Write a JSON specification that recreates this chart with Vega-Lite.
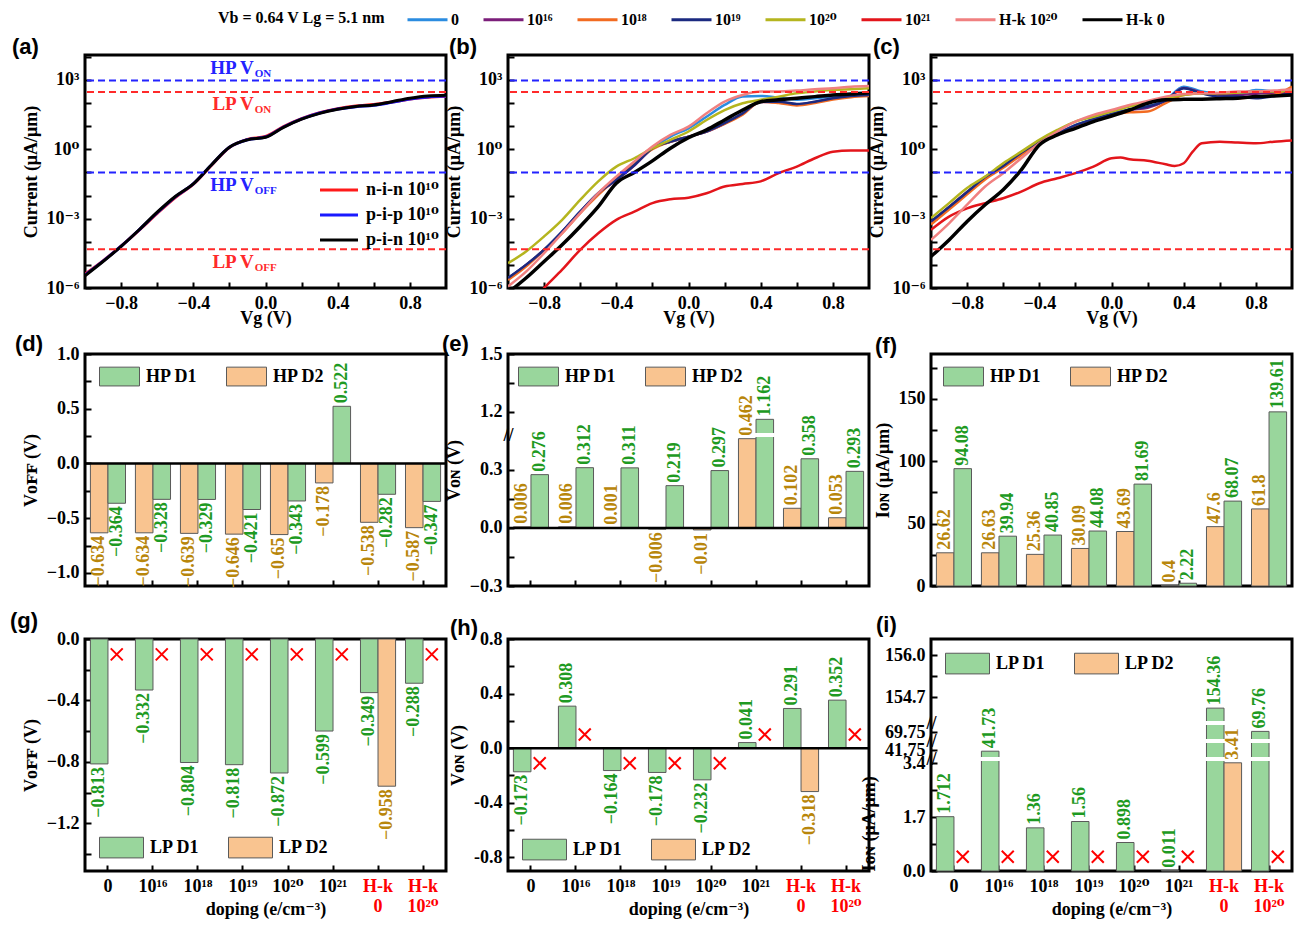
{
"$schema": "https://vega.github.io/schema/vega-lite/v6.json",
"background": "white",
"padding": {"left": 8, "top": 8, "right": 5, "bottom": 5},
"config": {
 "font": "Liberation Serif, DejaVu Serif",
 "view": {"stroke": "black", "strokeWidth": 3},
 "axis": {"domain": false, "grid": false, "tickCount": 50, "labelFont": "Liberation Serif, DejaVu Serif", "labelFontSize": 18, "labelFontWeight": "bold", "labelColor": "black", "titleFont": "Liberation Serif, DejaVu Serif", "titleFontSize": 18, "titleFontWeight": "bold", "titleColor": "black", "tickColor": "black", "tickWidth": 2, "tickSize": -6, "labelPadding": 12, "labelOverlap": false, "titlePadding": 6},
 "legend": {"labelFont": "Liberation Serif, DejaVu Serif", "labelFontSize": 17, "labelFontWeight": "bold", "labelColor": "black", "titleFont": "Liberation Serif, DejaVu Serif", "titleFontSize": 17, "titleFontWeight": "bold", "titleColor": "black", "padding": 0},
 "title": {"font": "Liberation Sans", "fontSize": 22, "fontWeight": "bold", "anchor": "start", "frame": "group", "color": "black"},
 "text": {"font": "Liberation Serif, DejaVu Serif", "fontWeight": "bold"}
},
"datasets": {
 "a": [
  {"Vg": -1.0, "n-i-n 10¹⁰": 4e-6, "p-i-p 10¹⁰": 3.6e-6, "p-i-n 10¹⁰": 3.4e-6},
  {"Vg": -0.9, "n-i-n 10¹⁰": 1.5e-5, "p-i-p 10¹⁰": 1.45e-5, "p-i-n 10¹⁰": 1.4e-5},
  {"Vg": -0.8, "n-i-n 10¹⁰": 6.5e-5, "p-i-p 10¹⁰": 6.4e-5, "p-i-n 10¹⁰": 6.3e-5},
  {"Vg": -0.7, "n-i-n 10¹⁰": 3.2e-4, "p-i-p 10¹⁰": 3.3e-4, "p-i-n 10¹⁰": 3.3e-4},
  {"Vg": -0.6, "n-i-n 10¹⁰": 1.7e-3, "p-i-p 10¹⁰": 1.8e-3, "p-i-n 10¹⁰": 1.9e-3},
  {"Vg": -0.5, "n-i-n 10¹⁰": 8.2e-3, "p-i-p 10¹⁰": 8.8e-3, "p-i-n 10¹⁰": 9.1e-3},
  {"Vg": -0.4, "n-i-n 10¹⁰": 0.031, "p-i-p 10¹⁰": 0.032, "p-i-n 10¹⁰": 0.032},
  {"Vg": -0.3, "n-i-n 10¹⁰": 0.2, "p-i-p 10¹⁰": 0.21, "p-i-n 10¹⁰": 0.21},
  {"Vg": -0.2, "n-i-n 10¹⁰": 1.2, "p-i-p 10¹⁰": 1.22, "p-i-n 10¹⁰": 1.23},
  {"Vg": -0.1, "n-i-n 10¹⁰": 2.7, "p-i-p 10¹⁰": 2.6, "p-i-n 10¹⁰": 2.57},
  {"Vg": 0.0, "n-i-n 10¹⁰": 3.6, "p-i-p 10¹⁰": 3.4, "p-i-n 10¹⁰": 3.31},
  {"Vg": 0.1, "n-i-n 10¹⁰": 9.6, "p-i-p 10¹⁰": 9.2, "p-i-n 10¹⁰": 8.9},
  {"Vg": 0.2, "n-i-n 10¹⁰": 21, "p-i-p 10¹⁰": 20.5, "p-i-n 10¹⁰": 20},
  {"Vg": 0.3, "n-i-n 10¹⁰": 38, "p-i-p 10¹⁰": 37, "p-i-n 10¹⁰": 36},
  {"Vg": 0.4, "n-i-n 10¹⁰": 57, "p-i-p 10¹⁰": 55, "p-i-n 10¹⁰": 54},
  {"Vg": 0.5, "n-i-n 10¹⁰": 74, "p-i-p 10¹⁰": 70, "p-i-n 10¹⁰": 71},
  {"Vg": 0.6, "n-i-n 10¹⁰": 86, "p-i-p 10¹⁰": 80, "p-i-n 10¹⁰": 83},
  {"Vg": 0.7, "n-i-n 10¹⁰": 110, "p-i-p 10¹⁰": 108, "p-i-n 10¹⁰": 115},
  {"Vg": 0.8, "n-i-n 10¹⁰": 150, "p-i-p 10¹⁰": 150, "p-i-n 10¹⁰": 162},
  {"Vg": 0.9, "n-i-n 10¹⁰": 180, "p-i-p 10¹⁰": 185, "p-i-n 10¹⁰": 204},
  {"Vg": 1.0, "n-i-n 10¹⁰": 196, "p-i-p 10¹⁰": 200, "p-i-n 10¹⁰": 219}
 ],
 "b": [
  {"Vg": -1.0, "0": 2.7e-6, "10¹⁶": 2.6e-6, "10¹⁸": 2.24e-6, "10¹⁹": 2.7e-6, "10²⁰": 1.17e-5, "H-k 10²⁰": 1.17e-6, "H-k 0": 6.3e-7},
  {"Vg": -0.9, "0": 1e-5, "10¹⁶": 9.8e-6, "10¹⁸": 8.5e-6, "10¹⁹": 1e-5, "10²⁰": 3.8e-5, "10²¹": 1.26e-7, "H-k 10²⁰": 5.1e-6, "H-k 0": 2.7e-6},
  {"Vg": -0.8, "0": 4.5e-5, "10¹⁶": 4.4e-5, "10¹⁸": 4.5e-5, "10¹⁹": 4.5e-5, "10²⁰": 1.7e-4, "10²¹": 1e-6, "H-k 10²⁰": 3.2e-5, "H-k 0": 1.4e-5},
  {"Vg": -0.7, "0": 2.75e-4, "10¹⁶": 2.7e-4, "10¹⁸": 2.34e-4, "10¹⁹": 2.75e-4, "10²⁰": 8.9e-4, "10²¹": 6.2e-6, "H-k 10²⁰": 2.34e-4, "H-k 0": 7.4e-5},
  {"Vg": -0.6, "0": 2.0e-3, "10¹⁶": 1.95e-3, "10¹⁸": 1.74e-3, "10¹⁹": 2.0e-3, "10²⁰": 6.5e-3, "10²¹": 4.5e-5, "H-k 10²⁰": 1.74e-3, "H-k 0": 4.6e-4},
  {"Vg": -0.5, "0": 0.0126, "10¹⁶": 0.0123, "10¹⁸": 0.0107, "10¹⁹": 0.0126, "10²⁰": 0.041, "10²¹": 2.34e-4, "H-k 10²⁰": 0.0126, "H-k 0": 3.3e-3},
  {"Vg": -0.4, "0": 0.048, "10¹⁶": 0.047, "10¹⁸": 0.056, "10¹⁹": 0.048, "10²⁰": 0.178, "10²¹": 8.9e-4, "H-k 10²⁰": 0.066, "H-k 0": 0.034},
  {"Vg": -0.3, "0": 0.21, "10¹⁶": 0.2, "10¹⁸": 0.25, "10¹⁹": 0.21, "10²⁰": 0.41, "10²¹": 2.0e-3, "H-k 10²⁰": 0.295, "H-k 0": 0.1},
  {"Vg": -0.2, "0": 1.12, "10¹⁶": 1.1, "10¹⁸": 1.0, "10¹⁹": 1.12, "10²⁰": 1.12, "10²¹": 4.7e-3, "H-k 10²⁰": 1.32, "H-k 0": 0.316},
  {"Vg": -0.1, "0": 3.55, "10¹⁶": 2.1, "10¹⁸": 2.14, "10¹⁹": 2.14, "10²⁰": 2.57, "10²¹": 6.9e-3, "H-k 10²⁰": 4.17, "H-k 0": 1.12},
  {"Vg": 0.0, "0": 8.1, "10¹⁶": 3.5, "10¹⁸": 3.55, "10¹⁹": 3.55, "10²⁰": 5.9, "10²¹": 8.1e-3, "H-k 10²⁰": 9.5, "H-k 0": 3.16},
  {"Vg": 0.1, "0": 25.7, "10¹⁶": 5.8, "10¹⁸": 5.9, "10¹⁹": 5.9, "10²⁰": 18.6, "10²¹": 0.0126, "H-k 10²⁰": 36, "H-k 0": 6.9},
  {"Vg": 0.2, "0": 83, "10¹⁶": 13, "10¹⁸": 12.6, "10¹⁹": 13.5, "10²⁰": 50, "10²¹": 0.0245, "H-k 10²⁰": 115, "H-k 0": 18.6},
  {"Vg": 0.3, "0": 190, "10¹⁶": 35, "10¹⁸": 31.6, "10¹⁹": 36, "10²⁰": 98, "10²¹": 0.0316, "H-k 10²⁰": 224, "H-k 0": 50},
  {"Vg": 0.4, "0": 204, "10¹⁶": 112, "10¹⁸": 115, "10¹⁹": 115, "10²⁰": 138, "10²¹": 0.041, "H-k 10²⁰": 316, "H-k 0": 115},
  {"Vg": 0.5, "0": 170, "10¹⁶": 110, "10¹⁸": 100, "10¹⁹": 115, "10²⁰": 190, "10²¹": 0.093, "H-k 10²⁰": 316, "H-k 0": 138},
  {"Vg": 0.6, "0": 140, "10¹⁶": 88, "10¹⁸": 79, "10¹⁹": 91, "10²⁰": 263, "10²¹": 0.178, "H-k 10²⁰": 347, "H-k 0": 162},
  {"Vg": 0.7, "0": 160, "10¹⁶": 112, "10¹⁸": 100, "10¹⁹": 115, "10²⁰": 316, "10²¹": 0.41, "H-k 10²⁰": 398, "H-k 0": 190},
  {"Vg": 0.8, "0": 190, "10¹⁶": 158, "10¹⁸": 141, "10¹⁹": 162, "10²⁰": 372, "10²¹": 0.79, "H-k 10²⁰": 437, "H-k 0": 224},
  {"Vg": 0.9, "0": 210, "10¹⁶": 200, "10¹⁸": 178, "10¹⁹": 204, "10²⁰": 398, "10²¹": 0.89, "H-k 10²⁰": 513, "H-k 0": 245},
  {"Vg": 1.0, "0": 224, "10¹⁶": 220, "10¹⁸": 200, "10¹⁹": 224, "10²⁰": 437, "10²¹": 0.89, "H-k 10²⁰": 550, "H-k 0": 282}
 ],
 "c": [
  {"Vg": -1.0, "0": 6.3e-4, "10¹⁶": 7.1e-4, "10¹⁸": 5.6e-4, "10¹⁹": 7.6e-4, "10²⁰": 1.05e-3, "10²¹": 3.3e-4, "H-k 10²⁰": 1.2e-4, "H-k 0": 2.3e-5},
  {"Vg": -0.9, "0": 2.8e-3, "10¹⁶": 3.2e-3, "10¹⁸": 2.5e-3, "10¹⁹": 3.2e-3, "10²⁰": 4.7e-3, "10²¹": 1.23e-3, "H-k 10²⁰": 6.3e-4, "H-k 0": 1.2e-4},
  {"Vg": -0.8, "0": 0.0126, "10¹⁶": 0.0141, "10¹⁸": 0.0112, "10¹⁹": 0.0141, "10²⁰": 0.021, "10²¹": 2.8e-3, "H-k 10²⁰": 4e-3, "H-k 0": 7.6e-4},
  {"Vg": -0.7, "0": 0.056, "10¹⁶": 0.056, "10¹⁸": 0.05, "10¹⁹": 0.063, "10²⁰": 0.066, "10²¹": 4.7e-3, "H-k 10²⁰": 0.0245, "H-k 0": 4e-3},
  {"Vg": -0.6, "0": 0.178, "10¹⁶": 0.178, "10¹⁸": 0.158, "10¹⁹": 0.19, "10²⁰": 0.25, "10²¹": 7.6e-3, "H-k 10²⁰": 0.093, "H-k 0": 0.0178},
  {"Vg": -0.5, "0": 0.68, "10¹⁶": 0.63, "10¹⁸": 0.56, "10¹⁹": 0.71, "10²⁰": 0.79, "10²¹": 0.0148, "H-k 10²⁰": 0.41, "H-k 0": 0.129},
  {"Vg": -0.4, "0": 2.14, "10¹⁶": 2.0, "10¹⁸": 2.0, "10¹⁹": 2.14, "10²⁰": 2.57, "10²¹": 0.034, "H-k 10²⁰": 1.82, "H-k 0": 1.55},
  {"Vg": -0.3, "0": 4.9, "10¹⁶": 4.5, "10¹⁸": 4.5, "10¹⁹": 4.9, "10²⁰": 6.9, "10²¹": 0.056, "H-k 10²⁰": 5.9, "H-k 0": 4.17},
  {"Vg": -0.2, "0": 11.2, "10¹⁶": 10, "10¹⁸": 10, "10¹⁹": 11.2, "10²⁰": 15.8, "10²¹": 0.093, "H-k 10²⁰": 15.8, "H-k 0": 8.1},
  {"Vg": -0.1, "0": 20, "10¹⁶": 20, "10¹⁸": 19, "10¹⁹": 20, "10²⁰": 25.7, "10²¹": 0.178, "H-k 10²⁰": 31, "H-k 0": 15.8},
  {"Vg": 0.0, "0": 34, "10¹⁶": 31.6, "10¹⁸": 31.6, "10¹⁹": 34, "10²⁰": 43, "10²¹": 0.41, "H-k 10²⁰": 50, "H-k 0": 27.5},
  {"Vg": 0.05, "10²¹": 0.44},
  {"Vg": 0.1, "0": 54, "10¹⁶": 50, "10¹⁸": 40, "10¹⁹": 52, "10²⁰": 71, "10²¹": 0.37, "H-k 10²⁰": 83, "H-k 0": 50},
  {"Vg": 0.2, "0": 71, "10¹⁶": 63, "10¹⁸": 43, "10¹⁹": 71, "10²⁰": 105, "10²¹": 0.32, "H-k 10²⁰": 123, "H-k 0": 98},
  {"Vg": 0.3, "0": 138, "10¹⁶": 126, "10¹⁸": 100, "10¹⁹": 126, "10²⁰": 162, "10²¹": 0.224, "H-k 10²⁰": 190, "H-k 0": 138},
  {"Vg": 0.35, "10²¹": 0.19},
  {"Vg": 0.4, "0": 513, "10¹⁶": 447, "10¹⁸": 224, "10¹⁹": 437, "10²⁰": 224, "10²¹": 0.25, "H-k 10²⁰": 245, "H-k 0": 145},
  {"Vg": 0.45, "10²¹": 0.79},
  {"Vg": 0.5, "0": 316, "10¹⁶": 282, "10¹⁸": 263, "10¹⁹": 263, "10²⁰": 263, "10²¹": 1.82, "H-k 10²⁰": 263, "H-k 0": 148},
  {"Vg": 0.6, "0": 263, "10¹⁶": 224, "10¹⁸": 190, "10¹⁹": 190, "10²⁰": 263, "10²¹": 2.14, "H-k 10²⁰": 282, "H-k 0": 155},
  {"Vg": 0.7, "0": 245, "10¹⁶": 224, "10¹⁸": 162, "10¹⁹": 190, "10²⁰": 282, "10²¹": 1.95, "H-k 10²⁰": 316, "H-k 0": 162},
  {"Vg": 0.8, "0": 372, "10¹⁶": 251, "10¹⁸": 190, "10¹⁹": 162, "10²⁰": 316, "10²¹": 1.82, "H-k 10²⁰": 316, "H-k 0": 190},
  {"Vg": 0.9, "0": 316, "10¹⁶": 282, "10¹⁸": 224, "10¹⁹": 200, "10²⁰": 316, "10²¹": 2.14, "H-k 10²⁰": 347, "H-k 0": 204},
  {"Vg": 1.0, "0": 224, "10¹⁶": 282, "10¹⁸": 513, "10¹⁹": 251, "10²⁰": 372, "10²¹": 2.4, "H-k 10²⁰": 398, "H-k 0": 224}
 ],
 "thr": [{"I": 935, "k": "HP"}, {"I": 302, "k": "LP"}, {"I": 0.1, "k": "HP"}, {"I": 0.000048, "k": "LP"}],
 "ann": [
  {"Vg": -0.065, "I": 3300, "t": "HP V", "sub": "ON", "k": "HP"},
  {"Vg": -0.065, "I": 91, "t": "LP V", "sub": "ON", "k": "LP"},
  {"Vg": -0.065, "I": 0.029, "t": "HP V", "sub": "OFF", "k": "HP"},
  {"Vg": -0.065, "I": 0.0000135, "t": "LP V", "sub": "OFF", "k": "LP"}
 ],
 "d": [
  {"c": "0", "s": "HP D2", "v": -0.634}, {"c": "0", "s": "HP D1", "v": -0.364},
  {"c": "10¹⁶", "s": "HP D2", "v": -0.634}, {"c": "10¹⁶", "s": "HP D1", "v": -0.328},
  {"c": "10¹⁸", "s": "HP D2", "v": -0.639}, {"c": "10¹⁸", "s": "HP D1", "v": -0.329},
  {"c": "10¹⁹", "s": "HP D2", "v": -0.646}, {"c": "10¹⁹", "s": "HP D1", "v": -0.421},
  {"c": "10²⁰", "s": "HP D2", "v": -0.65}, {"c": "10²⁰", "s": "HP D1", "v": -0.343},
  {"c": "10²¹", "s": "HP D2", "v": -0.178}, {"c": "10²¹", "s": "HP D1", "v": 0.522},
  {"c": "H-k 0", "s": "HP D2", "v": -0.538}, {"c": "H-k 0", "s": "HP D1", "v": -0.282},
  {"c": "H-k 10²⁰", "s": "HP D2", "v": -0.587}, {"c": "H-k 10²⁰", "s": "HP D1", "v": -0.347}
 ],
 "e": [
  {"c": "0", "s": "HP D2", "v": 0.006}, {"c": "0", "s": "HP D1", "v": 0.276},
  {"c": "10¹⁶", "s": "HP D2", "v": 0.006}, {"c": "10¹⁶", "s": "HP D1", "v": 0.312},
  {"c": "10¹⁸", "s": "HP D2", "v": 0.001}, {"c": "10¹⁸", "s": "HP D1", "v": 0.311},
  {"c": "10¹⁹", "s": "HP D2", "v": -0.006}, {"c": "10¹⁹", "s": "HP D1", "v": 0.219},
  {"c": "10²⁰", "s": "HP D2", "v": -0.01}, {"c": "10²⁰", "s": "HP D1", "v": 0.297},
  {"c": "10²¹", "s": "HP D2", "v": 0.462}, {"c": "10²¹", "s": "HP D1", "v": 1.162},
  {"c": "H-k 0", "s": "HP D2", "v": 0.102}, {"c": "H-k 0", "s": "HP D1", "v": 0.358},
  {"c": "H-k 10²⁰", "s": "HP D2", "v": 0.053}, {"c": "H-k 10²⁰", "s": "HP D1", "v": 0.293}
 ],
 "ebrk": [{"c": "10²¹", "s": "HP D1", "v": 1.081}],
 "f": [
  {"c": "0", "s": "HP D2", "v": 26.62}, {"c": "0", "s": "HP D1", "v": 94.08},
  {"c": "10¹⁶", "s": "HP D2", "v": 26.63}, {"c": "10¹⁶", "s": "HP D1", "v": 39.94},
  {"c": "10¹⁸", "s": "HP D2", "v": 25.36}, {"c": "10¹⁸", "s": "HP D1", "v": 40.85},
  {"c": "10¹⁹", "s": "HP D2", "v": 30.09}, {"c": "10¹⁹", "s": "HP D1", "v": 44.08},
  {"c": "10²⁰", "s": "HP D2", "v": 43.69}, {"c": "10²⁰", "s": "HP D1", "v": 81.69},
  {"c": "10²¹", "s": "HP D2", "v": 0.4}, {"c": "10²¹", "s": "HP D1", "v": 2.22},
  {"c": "H-k 0", "s": "HP D2", "v": 47.6}, {"c": "H-k 0", "s": "HP D1", "v": 68.07},
  {"c": "H-k 10²⁰", "s": "HP D2", "v": 61.8}, {"c": "H-k 10²⁰", "s": "HP D1", "v": 139.61}
 ],
 "g": [
  {"c": "0", "s": "LP D1", "v": -0.813}, {"c": "10¹⁶", "s": "LP D1", "v": -0.332},
  {"c": "10¹⁸", "s": "LP D1", "v": -0.804}, {"c": "10¹⁹", "s": "LP D1", "v": -0.818},
  {"c": "10²⁰", "s": "LP D1", "v": -0.872}, {"c": "10²¹", "s": "LP D1", "v": -0.599},
  {"c": "H-k 0", "s": "LP D1", "v": -0.349}, {"c": "H-k 0", "s": "LP D2", "v": -0.958},
  {"c": "H-k 10²⁰", "s": "LP D1", "v": -0.288}
 ],
 "gx": [
  {"c": "0", "s": "LP D2", "v": -0.1}, {"c": "10¹⁶", "s": "LP D2", "v": -0.1},
  {"c": "10¹⁸", "s": "LP D2", "v": -0.1}, {"c": "10¹⁹", "s": "LP D2", "v": -0.1},
  {"c": "10²⁰", "s": "LP D2", "v": -0.1}, {"c": "10²¹", "s": "LP D2", "v": -0.1},
  {"c": "H-k 10²⁰", "s": "LP D2", "v": -0.1}
 ],
 "h": [
  {"c": "0", "s": "LP D1", "v": -0.173}, {"c": "10¹⁶", "s": "LP D1", "v": 0.308},
  {"c": "10¹⁸", "s": "LP D1", "v": -0.164}, {"c": "10¹⁹", "s": "LP D1", "v": -0.178},
  {"c": "10²⁰", "s": "LP D1", "v": -0.232}, {"c": "10²¹", "s": "LP D1", "v": 0.041},
  {"c": "H-k 0", "s": "LP D1", "v": 0.291}, {"c": "H-k 0", "s": "LP D2", "v": -0.318},
  {"c": "H-k 10²⁰", "s": "LP D1", "v": 0.352}
 ],
 "hx": [
  {"c": "0", "s": "LP D2", "v": -0.11}, {"c": "10¹⁶", "s": "LP D2", "v": 0.1},
  {"c": "10¹⁸", "s": "LP D2", "v": -0.11}, {"c": "10¹⁹", "s": "LP D2", "v": -0.11},
  {"c": "10²⁰", "s": "LP D2", "v": -0.11}, {"c": "10²¹", "s": "LP D2", "v": 0.1},
  {"c": "H-k 10²⁰", "s": "LP D2", "v": 0.1}
 ],
 "i": [
  {"c": "0", "s": "LP D1", "v": 1.712}, {"c": "10¹⁶", "s": "LP D1", "v": 41.73},
  {"c": "10¹⁸", "s": "LP D1", "v": 1.36}, {"c": "10¹⁹", "s": "LP D1", "v": 1.56},
  {"c": "10²⁰", "s": "LP D1", "v": 0.898}, {"c": "10²¹", "s": "LP D1", "v": 0.011},
  {"c": "H-k 0", "s": "LP D1", "v": 154.36}, {"c": "H-k 0", "s": "LP D2", "v": 3.41},
  {"c": "H-k 10²⁰", "s": "LP D1", "v": 69.76}
 ],
 "ix": [
  {"c": "0", "s": "LP D2", "v": 0.45}, {"c": "10¹⁶", "s": "LP D2", "v": 0.45},
  {"c": "10¹⁸", "s": "LP D2", "v": 0.45}, {"c": "10¹⁹", "s": "LP D2", "v": 0.45},
  {"c": "10²⁰", "s": "LP D2", "v": 0.45}, {"c": "10²¹", "s": "LP D2", "v": 0.45},
  {"c": "H-k 10²⁰", "s": "LP D2", "v": 0.45}
 ],
 "ibrk": [
  {"c": "10¹⁶", "s": "LP D1", "v": 3.53},
  {"c": "H-k 0", "s": "LP D1", "v": 3.53}, {"c": "H-k 0", "s": "LP D1", "v": 41.9}, {"c": "H-k 0", "s": "LP D1", "v": 69.9},
  {"c": "H-k 10²⁰", "s": "LP D1", "v": 3.53}, {"c": "H-k 10²⁰", "s": "LP D1", "v": 41.9}
 ]
},
"vconcat": [
 {"hconcat": [
  {"width": 361, "height": 233,
   "title": {"text": "(a)", "dx": -73, "offset": -11},
   "layer": [
    {"data": {"name": "a"}, "transform": [{"fold": ["n-i-n 10¹⁰", "p-i-p 10¹⁰", "p-i-n 10¹⁰"], "as": ["series", "I"]}],
     "mark": {"type": "line", "interpolate": "monotone", "clip": true, "strokeWidth": 3},
     "encoding": {
      "x": {"field": "Vg", "type": "quantitative", "scale": {"domain": [-1, 1], "nice": false, "zero": false}, "axis": {"values": [-0.8, -0.6, -0.4, -0.2, 0, 0.2, 0.4, 0.6, 0.8], "format": ".1f", "labelExpr": "abs(datum.value) == 0.6 || abs(datum.value) == 0.2 ? '' : datum.label", "title": "Vg (V)", "titlePadding": -3}},
      "y": {"field": "I", "type": "quantitative", "scale": {"type": "log", "domain": [0.000001, 12000], "nice": false, "zero": false}, "axis": {"values": [0.000001, 0.00001, 0.0001, 0.001, 0.01, 0.1, 1, 10, 100, 1000, 10000], "labelExpr": "datum.value == 1000 ? '10³' : datum.value == 1 ? '10⁰' : datum.value == 0.001 ? '10⁻³' : datum.value == 0.000001 ? '10⁻⁶' : ''", "title": "Current (μA/μm)"}},
      "color": {"field": "series", "type": "nominal", "sort": null, "scale": {"domain": ["n-i-n 10¹⁰", "p-i-p 10¹⁰", "p-i-n 10¹⁰"], "range": ["#ff1a1a", "#1a1aff", "#000000"]},
       "legend": {"orient": "none", "legendX": 243, "legendY": 124, "title": null, "symbolType": "M-2,0H2", "symbolSize": 361, "symbolStrokeWidth": 3, "labelFontSize": 18, "labelOffset": 16, "rowPadding": 5}}
     }},
    {"data": {"name": "thr"}, "mark": {"type": "rule", "strokeDash": [7, 4], "strokeWidth": 2},
     "encoding": {"y": {"field": "I", "type": "quantitative"}, "color": {"condition": {"test": "datum.k == 'HP'", "value": "#2323ff"}, "value": "#ff2a2a"}}},
    {"data": {"name": "ann"}, "mark": {"type": "text", "align": "right", "baseline": "middle", "fontSize": 19},
     "encoding": {"x": {"field": "Vg", "type": "quantitative"}, "y": {"field": "I", "type": "quantitative"}, "text": {"field": "t"}, "color": {"condition": {"test": "datum.k == 'HP'", "value": "#2323ff"}, "value": "#ff2a2a"}}},
    {"data": {"name": "ann"}, "mark": {"type": "text", "align": "left", "baseline": "middle", "fontSize": 11, "dx": 1, "dy": 6},
     "encoding": {"x": {"field": "Vg", "type": "quantitative"}, "y": {"field": "I", "type": "quantitative"}, "text": {"field": "sub"}, "color": {"condition": {"test": "datum.k == 'HP'", "value": "#2323ff"}, "value": "#ff2a2a"}}}
   ]},
  {"hconcat": [
   {"width": 361, "height": 233,
    "title": {"text": "(b)", "dx": -59, "offset": -11},
    "layer": [
     {"data": {"name": "b"}, "transform": [{"fold": ["0", "10¹⁶", "10¹⁸", "10¹⁹", "10²⁰", "10²¹", "H-k 10²⁰", "H-k 0"], "as": ["series", "I"]}, {"filter": "isValid(datum.I)"}],
      "mark": {"type": "line", "interpolate": "monotone", "clip": true},
      "encoding": {
       "x": {"field": "Vg", "type": "quantitative", "scale": {"domain": [-1, 1], "nice": false, "zero": false}, "axis": {"values": [-0.8, -0.6, -0.4, -0.2, 0, 0.2, 0.4, 0.6, 0.8], "format": ".1f", "labelExpr": "abs(datum.value) == 0.6 || abs(datum.value) == 0.2 ? '' : datum.label", "title": "Vg (V)", "titlePadding": -3}},
       "y": {"field": "I", "type": "quantitative", "scale": {"type": "log", "domain": [0.000001, 12000], "nice": false, "zero": false}, "axis": {"values": [0.000001, 0.00001, 0.0001, 0.001, 0.01, 0.1, 1, 10, 100, 1000, 10000], "labelExpr": "datum.value == 1000 ? '10³' : datum.value == 1 ? '10⁰' : datum.value == 0.001 ? '10⁻³' : datum.value == 0.000001 ? '10⁻⁶' : ''", "title": "Current (μA/μm)"}},
       "color": {"field": "series", "type": "nominal", "sort": null, "scale": {"domain": ["0", "10¹⁶", "10¹⁸", "10¹⁹", "10²⁰", "10²¹", "H-k 10²⁰", "H-k 0"], "range": ["#2b8ce0", "#7b1e7a", "#f26b21", "#1b2a80", "#b5b51e", "#e3151b", "#f08080", "#000000"]},
        "legend": {"orient": "none", "legendX": -290, "legendY": -47, "direction": "horizontal", "title": "Vb = 0.64 V  Lg = 5.1 nm", "titleOrient": "left", "titleBaseline": "middle", "titleFontSize": 16, "titleLimit": 500, "titlePadding": 26, "symbolType": "M-2,0H2", "symbolSize": 400, "symbolStrokeWidth": 3, "labelFontSize": 16, "labelOffset": 12, "columnPadding": 18}},
       "strokeWidth": {"condition": {"test": "datum.series == 'H-k 0'", "value": 3.5}, "value": 2.5}
      }},
     {"data": {"name": "thr"}, "mark": {"type": "rule", "strokeDash": [7, 4], "strokeWidth": 2},
      "encoding": {"y": {"field": "I", "type": "quantitative"}, "color": {"condition": {"test": "datum.k == 'HP'", "value": "#2323ff"}, "value": "#ff2a2a"}}}
    ]},
   {"width": 361, "height": 233,
    "title": {"text": "(c)", "dx": -58, "offset": -11},
    "layer": [
     {"data": {"name": "c"}, "transform": [{"fold": ["0", "10¹⁶", "10¹⁸", "10¹⁹", "10²⁰", "10²¹", "H-k 10²⁰", "H-k 0"], "as": ["series", "I"]}, {"filter": "isValid(datum.I)"}],
      "mark": {"type": "line", "interpolate": "monotone", "clip": true},
      "encoding": {
       "x": {"field": "Vg", "type": "quantitative", "scale": {"domain": [-1, 1], "nice": false, "zero": false}, "axis": {"values": [-0.8, -0.6, -0.4, -0.2, 0, 0.2, 0.4, 0.6, 0.8], "format": ".1f", "labelExpr": "abs(datum.value) == 0.6 || abs(datum.value) == 0.2 ? '' : datum.label", "title": "Vg (V)", "titlePadding": -3}},
       "y": {"field": "I", "type": "quantitative", "scale": {"type": "log", "domain": [0.000001, 12000], "nice": false, "zero": false}, "axis": {"values": [0.000001, 0.00001, 0.0001, 0.001, 0.01, 0.1, 1, 10, 100, 1000, 10000], "labelExpr": "datum.value == 1000 ? '10³' : datum.value == 1 ? '10⁰' : datum.value == 0.001 ? '10⁻³' : datum.value == 0.000001 ? '10⁻⁶' : ''", "title": "Current (μA/μm)"}},
       "color": {"field": "series", "type": "nominal", "sort": null, "scale": {"domain": ["0", "10¹⁶", "10¹⁸", "10¹⁹", "10²⁰", "10²¹", "H-k 10²⁰", "H-k 0"], "range": ["#2b8ce0", "#7b1e7a", "#f26b21", "#1b2a80", "#b5b51e", "#e3151b", "#f08080", "#000000"]},
        "legend": {"orient": "none", "legendX": -290, "legendY": -47, "direction": "horizontal", "title": "Vb = 0.64 V  Lg = 5.1 nm", "titleOrient": "left", "titleBaseline": "middle", "titleFontSize": 16, "titleLimit": 500, "titlePadding": 26, "symbolType": "M-2,0H2", "symbolSize": 400, "symbolStrokeWidth": 3, "labelFontSize": 16, "labelOffset": 12, "columnPadding": 18}},
       "strokeWidth": {"condition": {"test": "datum.series == 'H-k 0'", "value": 3.5}, "value": 2.5}
      }},
     {"data": {"name": "thr"}, "mark": {"type": "rule", "strokeDash": [7, 4], "strokeWidth": 2},
      "encoding": {"y": {"field": "I", "type": "quantitative"}, "color": {"condition": {"test": "datum.k == 'HP'", "value": "#2323ff"}, "value": "#ff2a2a"}}}
    ]}
  ], "spacing": 62, "bounds": "flush"}
 ], "spacing": 62, "bounds": "flush", "resolve": {"scale": {"color": "independent"}, "legend": {"color": "independent"}}},
 {"vconcat": [
  {"hconcat": [
   {"width": 361, "height": 232,
    "title": {"text": "(d)", "dx": -70, "offset": -11},
    "layer": [
     {"data": {"name": "d"}, "mark": {"type": "bar", "stroke": "#5a5a5a", "strokeWidth": 1},
      "encoding": {
       "x": {"field": "c", "type": "nominal", "scale": {"domain": ["0", "10¹⁶", "10¹⁸", "10¹⁹", "10²⁰", "10²¹", "H-k 0", "H-k 10²⁰"], "paddingInner": 0.22, "paddingOuter": 0.12}, "axis": {"labels": false, "title": null}},
       "xOffset": {"field": "s", "type": "nominal", "scale": {"domain": ["HP D2", "HP D1"]}},
       "y": {"field": "v", "type": "quantitative", "scale": {"domain": [-1.12, 1.0], "nice": false, "zero": false}, "axis": {"values": [-1, -0.75, -0.5, -0.25, 0, 0.25, 0.5, 0.75, 1], "format": ".1f", "labelExpr": "abs(datum.value) == 0.25 || abs(datum.value) == 0.75 ? '' : datum.label", "title": "Vᴏꜰꜰ (V)"}},
       "color": {"field": "s", "type": "nominal", "scale": {"domain": ["HP D1", "HP D2"], "range": ["#99d69c", "#f9c490"]},
        "legend": {"orient": "none", "legendX": 14, "legendY": 2, "direction": "horizontal", "title": null, "symbolType": "M-1,-0.47H1V0.47H-1Z", "symbolSize": 1600, "symbolStrokeColor": "#5a5a5a", "symbolStrokeWidth": 1, "symbolOpacity": 1, "labelFontSize": 18, "labelOffset": 6, "columnPadding": 26}}
      }},
     {"data": {"name": "d"}, "transform": [{"filter": "datum.v >= 0"}], "mark": {"type": "text", "angle": 270, "align": "left", "baseline": "middle", "dx": 3, "fontSize": 18},
      "encoding": {"x": {"field": "c", "type": "nominal"}, "xOffset": {"field": "s", "type": "nominal"}, "y": {"field": "v", "type": "quantitative"}, "text": {"field": "v", "type": "quantitative", "format": "~g"}, "color": {"condition": {"test": "indexof(datum.s, 'D1') >= 0", "value": "#1e9a22"}, "value": "#b8860b"}}},
     {"data": {"name": "d"}, "transform": [{"filter": "datum.v < 0"}], "mark": {"type": "text", "angle": 270, "align": "right", "baseline": "middle", "dx": -3, "fontSize": 18},
      "encoding": {"x": {"field": "c", "type": "nominal"}, "xOffset": {"field": "s", "type": "nominal"}, "y": {"field": "v", "type": "quantitative"}, "text": {"field": "v", "type": "quantitative", "format": "~g"}, "color": {"condition": {"test": "indexof(datum.s, 'D1') >= 0", "value": "#1e9a22"}, "value": "#b8860b"}}},
     {"data": {"values": [{}]}, "mark": {"type": "rule", "color": "black", "strokeWidth": 2.5}, "encoding": {"y": {"datum": 0}}}
    ]},
   {"width": 361, "height": 232,
    "title": {"text": "(e)", "dx": -66, "offset": -11},
    "layer": [
     {"data": {"name": "e"}, "mark": {"type": "bar", "stroke": "#5a5a5a", "strokeWidth": 1},
      "encoding": {
       "x": {"field": "c", "type": "nominal", "scale": {"domain": ["0", "10¹⁶", "10¹⁸", "10¹⁹", "10²⁰", "10²¹", "H-k 0", "H-k 10²⁰"], "paddingInner": 0.22, "paddingOuter": 0.12}, "axis": {"labels": false, "title": null}},
       "xOffset": {"field": "s", "type": "nominal", "scale": {"domain": ["HP D2", "HP D1"]}},
       "y": {"field": "v", "type": "quantitative", "scale": {"domain": [-0.3, 0.481, 1.081, 1.5], "range": [232, 81, 81, 0], "nice": false, "zero": false},
        "axis": {"values": [-0.3, -0.15, 0, 0.15, 0.3, 1.081, 1.2, 1.35, 1.5], "format": ".1f", "labelExpr": "datum.value == 1.081 ? '//' : (abs(datum.value) == 0.15 || datum.value == 1.35) ? '' : datum.label",
         "labelAlign": {"condition": {"test": "datum.value == 1.081", "value": "center"}, "value": "right"},
         "labelPadding": {"condition": {"test": "datum.value == 1.081", "value": 6}, "value": 12},
         "tickColor": {"condition": {"test": "datum.value == 1.081", "value": "transparent"}, "value": "black"},
         "title": "Vᴏɴ (V)"}},
       "color": {"field": "s", "type": "nominal", "scale": {"domain": ["HP D1", "HP D2"], "range": ["#99d69c", "#f9c490"]},
        "legend": {"orient": "none", "legendX": 10, "legendY": 2, "direction": "horizontal", "title": null, "symbolType": "M-1,-0.47H1V0.47H-1Z", "symbolSize": 1600, "symbolStrokeColor": "#5a5a5a", "symbolStrokeWidth": 1, "symbolOpacity": 1, "labelFontSize": 18, "labelOffset": 6, "columnPadding": 26}}
      }},
     {"data": {"name": "ebrk"}, "mark": {"type": "tick", "color": "white", "thickness": 4, "size": 20, "opacity": 1},
      "encoding": {"x": {"field": "c", "type": "nominal"}, "xOffset": {"field": "s", "type": "nominal"}, "y": {"field": "v", "type": "quantitative"}}},
     {"data": {"name": "e"}, "transform": [{"filter": "datum.v >= 0"}], "mark": {"type": "text", "angle": 270, "align": "left", "baseline": "middle", "dx": 3, "fontSize": 18},
      "encoding": {"x": {"field": "c", "type": "nominal"}, "xOffset": {"field": "s", "type": "nominal"}, "y": {"field": "v", "type": "quantitative"}, "text": {"field": "v", "type": "quantitative", "format": "~g"}, "color": {"condition": {"test": "indexof(datum.s, 'D1') >= 0", "value": "#1e9a22"}, "value": "#b8860b"}}},
     {"data": {"name": "e"}, "transform": [{"filter": "datum.v < 0"}], "mark": {"type": "text", "angle": 270, "align": "right", "baseline": "middle", "dx": -3, "fontSize": 18},
      "encoding": {"x": {"field": "c", "type": "nominal"}, "xOffset": {"field": "s", "type": "nominal"}, "y": {"field": "v", "type": "quantitative"}, "text": {"field": "v", "type": "quantitative", "format": "~g"}, "color": {"condition": {"test": "indexof(datum.s, 'D1') >= 0", "value": "#1e9a22"}, "value": "#b8860b"}}},
     {"data": {"values": [{}]}, "mark": {"type": "rule", "color": "black", "strokeWidth": 2.5}, "encoding": {"y": {"datum": 0}}}
    ]},
   {"width": 361, "height": 232,
    "title": {"text": "(f)", "dx": -56, "offset": -4},
    "layer": [
     {"data": {"name": "f"}, "mark": {"type": "bar", "stroke": "#5a5a5a", "strokeWidth": 1},
      "encoding": {
       "x": {"field": "c", "type": "nominal", "scale": {"domain": ["0", "10¹⁶", "10¹⁸", "10¹⁹", "10²⁰", "10²¹", "H-k 0", "H-k 10²⁰"], "paddingInner": 0.22, "paddingOuter": 0.12}, "axis": {"labels": false, "title": null}},
       "xOffset": {"field": "s", "type": "nominal", "scale": {"domain": ["HP D2", "HP D1"]}},
       "y": {"field": "v", "type": "quantitative", "scale": {"domain": [0, 186], "nice": false, "zero": false}, "axis": {"values": [0, 25, 50, 75, 100, 125, 150, 175], "format": "d", "labelExpr": "datum.value % 50 != 0 ? '' : datum.label", "title": "Iᴏɴ (μA/μm)"}},
       "color": {"field": "s", "type": "nominal", "scale": {"domain": ["HP D1", "HP D2"], "range": ["#99d69c", "#f9c490"]},
        "legend": {"orient": "none", "legendX": 12, "legendY": 2, "direction": "horizontal", "title": null, "symbolType": "M-1,-0.47H1V0.47H-1Z", "symbolSize": 1600, "symbolStrokeColor": "#5a5a5a", "symbolStrokeWidth": 1, "symbolOpacity": 1, "labelFontSize": 18, "labelOffset": 6, "columnPadding": 26}}
      }},
     {"data": {"name": "f"}, "mark": {"type": "text", "angle": 270, "align": "left", "baseline": "middle", "dx": 3, "fontSize": 18},
      "encoding": {"x": {"field": "c", "type": "nominal"}, "xOffset": {"field": "s", "type": "nominal"}, "y": {"field": "v", "type": "quantitative"}, "text": {"field": "v", "type": "quantitative", "format": "~g"}, "color": {"condition": {"test": "indexof(datum.s, 'D1') >= 0", "value": "#1e9a22"}, "value": "#b8860b"}}}
    ]}
  ], "spacing": 62, "bounds": "flush", "resolve": {"scale": {"color": "independent", "xOffset": "independent"}, "legend": {"color": "independent"}}},
  {"hconcat": [
   {"width": 361, "height": 232,
    "title": {"text": "(g)", "dx": -75, "offset": -3},
    "layer": [
     {"data": {"name": "g"}, "mark": {"type": "bar", "stroke": "#5a5a5a", "strokeWidth": 1},
      "encoding": {
       "x": {"field": "c", "type": "nominal", "scale": {"domain": ["0", "10¹⁶", "10¹⁸", "10¹⁹", "10²⁰", "10²¹", "H-k 0", "H-k 10²⁰"], "paddingInner": 0.22, "paddingOuter": 0.12}, "axis": {"title": "doping (e/cm⁻³)", "labelAngle": 0, "labelExpr": "indexof(datum.label, 'H-k') == 0 ? ['H-k', substring(datum.label, 4)] : datum.label", "labelColor": {"condition": {"test": "indexof(datum.label, 'H-k') == 0", "value": "#ff0000"}, "value": "black"}, "titlePadding": -15}},
       "xOffset": {"field": "s", "type": "nominal", "scale": {"domain": ["LP D1", "LP D2"]}},
       "y": {"field": "v", "type": "quantitative", "scale": {"domain": [-1.51, 0], "nice": false, "zero": false}, "axis": {"values": [0, -0.2, -0.4, -0.6, -0.8, -1.0, -1.2, -1.4], "format": ".1f", "labelExpr": "abs(datum.value) == 0.2 || abs(datum.value) == 0.6 || abs(datum.value) == 1 || abs(datum.value) == 1.4 ? '' : datum.label", "title": "Vᴏꜰꜰ (V)"}},
       "color": {"field": "s", "type": "nominal", "scale": {"domain": ["LP D1", "LP D2"], "range": ["#99d69c", "#f9c490"]},
        "legend": {"orient": "none", "legendX": 14, "legendY": 186, "direction": "horizontal", "title": null, "symbolType": "M-1,-0.47H1V0.47H-1Z", "symbolSize": 1936, "symbolStrokeColor": "#5a5a5a", "symbolStrokeWidth": 1, "symbolOpacity": 1, "labelFontSize": 18, "labelOffset": 6, "columnPadding": 26}}
      }},
     {"data": {"name": "g"}, "mark": {"type": "text", "angle": 270, "align": "right", "baseline": "middle", "dx": -3, "fontSize": 18},
      "encoding": {"x": {"field": "c", "type": "nominal"}, "xOffset": {"field": "s", "type": "nominal"}, "y": {"field": "v", "type": "quantitative"}, "text": {"field": "v", "type": "quantitative", "format": "~g"}, "color": {"condition": {"test": "indexof(datum.s, 'D1') >= 0", "value": "#1e9a22"}, "value": "#b8860b"}}},
     {"data": {"name": "gx"}, "mark": {"type": "point", "shape": "M-1,-1L1,1M-1,1L1,-1", "filled": false, "color": "#ff0000", "strokeWidth": 2, "size": 144, "opacity": 1},
      "encoding": {"x": {"field": "c", "type": "nominal"}, "xOffset": {"field": "s", "type": "nominal"}, "y": {"field": "v", "type": "quantitative"}}}
    ]},
   {"width": 361, "height": 232,
    "title": {"text": "(h)", "dx": -58, "offset": -10},
    "layer": [
     {"data": {"name": "h"}, "mark": {"type": "bar", "stroke": "#5a5a5a", "strokeWidth": 1},
      "encoding": {
       "x": {"field": "c", "type": "nominal", "scale": {"domain": ["0", "10¹⁶", "10¹⁸", "10¹⁹", "10²⁰", "10²¹", "H-k 0", "H-k 10²⁰"], "paddingInner": 0.22, "paddingOuter": 0.12}, "axis": {"title": "doping (e/cm⁻³)", "labelAngle": 0, "labelExpr": "indexof(datum.label, 'H-k') == 0 ? ['H-k', substring(datum.label, 4)] : datum.label", "labelColor": {"condition": {"test": "indexof(datum.label, 'H-k') == 0", "value": "#ff0000"}, "value": "black"}, "titlePadding": -15}},
       "xOffset": {"field": "s", "type": "nominal", "scale": {"domain": ["LP D1", "LP D2"]}},
       "y": {"field": "v", "type": "quantitative", "scale": {"domain": [-0.9, 0.8], "nice": false, "zero": false}, "axis": {"values": [-0.8, -0.6, -0.4, -0.2, 0, 0.2, 0.4, 0.6, 0.8], "labelExpr": "abs(datum.value) == 0.2 || abs(datum.value) == 0.6 ? '' : replace(format(datum.value, '.1f'), '−', '-')", "title": "Vᴏɴ (V)"}},
       "color": {"field": "s", "type": "nominal", "scale": {"domain": ["LP D1", "LP D2"], "range": ["#99d69c", "#f9c490"]},
        "legend": {"orient": "none", "legendX": 14, "legendY": 188, "direction": "horizontal", "title": null, "symbolType": "M-1,-0.47H1V0.47H-1Z", "symbolSize": 1936, "symbolStrokeColor": "#5a5a5a", "symbolStrokeWidth": 1, "symbolOpacity": 1, "labelFontSize": 18, "labelOffset": 6, "columnPadding": 26}}
      }},
     {"data": {"name": "h"}, "transform": [{"filter": "datum.v >= 0"}], "mark": {"type": "text", "angle": 270, "align": "left", "baseline": "middle", "dx": 3, "fontSize": 18},
      "encoding": {"x": {"field": "c", "type": "nominal"}, "xOffset": {"field": "s", "type": "nominal"}, "y": {"field": "v", "type": "quantitative"}, "text": {"field": "v", "type": "quantitative", "format": "~g"}, "color": {"condition": {"test": "indexof(datum.s, 'D1') >= 0", "value": "#1e9a22"}, "value": "#b8860b"}}},
     {"data": {"name": "h"}, "transform": [{"filter": "datum.v < 0"}], "mark": {"type": "text", "angle": 270, "align": "right", "baseline": "middle", "dx": -3, "fontSize": 18},
      "encoding": {"x": {"field": "c", "type": "nominal"}, "xOffset": {"field": "s", "type": "nominal"}, "y": {"field": "v", "type": "quantitative"}, "text": {"field": "v", "type": "quantitative", "format": "~g"}, "color": {"condition": {"test": "indexof(datum.s, 'D1') >= 0", "value": "#1e9a22"}, "value": "#b8860b"}}},
     {"data": {"name": "hx"}, "mark": {"type": "point", "shape": "M-1,-1L1,1M-1,1L1,-1", "filled": false, "color": "#ff0000", "strokeWidth": 2, "size": 144, "opacity": 1},
      "encoding": {"x": {"field": "c", "type": "nominal"}, "xOffset": {"field": "s", "type": "nominal"}, "y": {"field": "v", "type": "quantitative"}}},
     {"data": {"values": [{}]}, "mark": {"type": "rule", "color": "black", "strokeWidth": 2.5}, "encoding": {"y": {"datum": 0}}}
    ]},
   {"width": 361, "height": 232,
    "title": {"text": "(i)", "dx": -55, "offset": 2},
    "layer": [
     {"data": {"name": "i"}, "mark": {"type": "bar", "stroke": "#5a5a5a", "strokeWidth": 1},
      "encoding": {
       "x": {"field": "c", "type": "nominal", "scale": {"domain": ["0", "10¹⁶", "10¹⁸", "10¹⁹", "10²⁰", "10²¹", "H-k 0", "H-k 10²⁰"], "paddingInner": 0.22, "paddingOuter": 0.12}, "axis": {"title": "doping (e/cm⁻³)", "labelAngle": 0, "labelExpr": "indexof(datum.label, 'H-k') == 0 ? ['H-k', substring(datum.label, 4)] : datum.label", "labelColor": {"condition": {"test": "indexof(datum.label, 'H-k') == 0", "value": "#ff0000"}, "value": "black"}, "titlePadding": -15}},
       "xOffset": {"field": "s", "type": "nominal", "scale": {"domain": ["LP D1", "LP D2"]}},
       "y": {"field": "v", "type": "quantitative", "scale": {"domain": [0, 3.53, 41.6, 41.9, 69.6, 69.9, 153.9, 156.5], "range": [232, 120, 120, 102, 102, 84, 84, 0], "nice": false, "zero": false},
        "axis": {"values": [0, 0.85, 1.7, 2.55, 3.4, 3.53, 41.75, 41.9, 69.75, 69.9, 154.7, 155.35, 156.0],
         "labelExpr": "(datum.value == 3.53 || datum.value == 41.9 || datum.value == 69.9) ? '//' : (datum.value == 0.85 || datum.value == 2.55 || datum.value == 155.35) ? '' : (datum.value == 41.75 || datum.value == 69.75) ? format(datum.value, '.2f') : format(datum.value, '.1f')",
         "labelAlign": {"condition": {"test": "datum.value == 3.53 || datum.value == 41.9 || datum.value == 69.9", "value": "center"}, "value": "right"},
         "labelPadding": {"condition": {"test": "datum.value == 3.53 || datum.value == 41.9 || datum.value == 69.9", "value": 6}, "value": 12},
         "tickColor": {"condition": {"test": "datum.value == 3.53 || datum.value == 41.9 || datum.value == 69.9", "value": "transparent"}, "value": "black"},
         "title": "Iᴏɴ (μA/μm)", "titleAnchor": "start"}},
       "color": {"field": "s", "type": "nominal", "scale": {"domain": ["LP D1", "LP D2"], "range": ["#99d69c", "#f9c490"]},
        "legend": {"orient": "none", "legendX": 14, "legendY": 2, "direction": "horizontal", "title": null, "symbolType": "M-1,-0.47H1V0.47H-1Z", "symbolSize": 1936, "symbolStrokeColor": "#5a5a5a", "symbolStrokeWidth": 1, "symbolOpacity": 1, "labelFontSize": 18, "labelOffset": 6, "columnPadding": 26}}
      }},
     {"data": {"name": "ibrk"}, "mark": {"type": "tick", "color": "white", "thickness": 4, "size": 20, "opacity": 1},
      "encoding": {"x": {"field": "c", "type": "nominal"}, "xOffset": {"field": "s", "type": "nominal"}, "y": {"field": "v", "type": "quantitative"}}},
     {"data": {"name": "i"}, "mark": {"type": "text", "angle": 270, "align": "left", "baseline": "middle", "dx": 3, "fontSize": 18},
      "encoding": {"x": {"field": "c", "type": "nominal"}, "xOffset": {"field": "s", "type": "nominal"}, "y": {"field": "v", "type": "quantitative"}, "text": {"field": "v", "type": "quantitative", "format": "~g"}, "color": {"condition": {"test": "indexof(datum.s, 'D1') >= 0", "value": "#1e9a22"}, "value": "#b8860b"}}},
     {"data": {"name": "ix"}, "mark": {"type": "point", "shape": "M-1,-1L1,1M-1,1L1,-1", "filled": false, "color": "#ff0000", "strokeWidth": 2, "size": 144, "opacity": 1},
      "encoding": {"x": {"field": "c", "type": "nominal"}, "xOffset": {"field": "s", "type": "nominal"}, "y": {"field": "v", "type": "quantitative"}}}
    ]}
  ], "spacing": 62, "bounds": "flush", "resolve": {"scale": {"color": "independent", "xOffset": "independent"}, "legend": {"color": "independent"}}}
 ], "spacing": 11, "bounds": "full", "align": "each", "resolve": {"scale": {"color": "independent", "xOffset": "independent"}, "legend": {"color": "independent"}}}
],
"spacing": 2, "bounds": "full", "align": "each",
"resolve": {"scale": {"color": "independent", "xOffset": "independent"}, "legend": {"color": "independent"}}
}
